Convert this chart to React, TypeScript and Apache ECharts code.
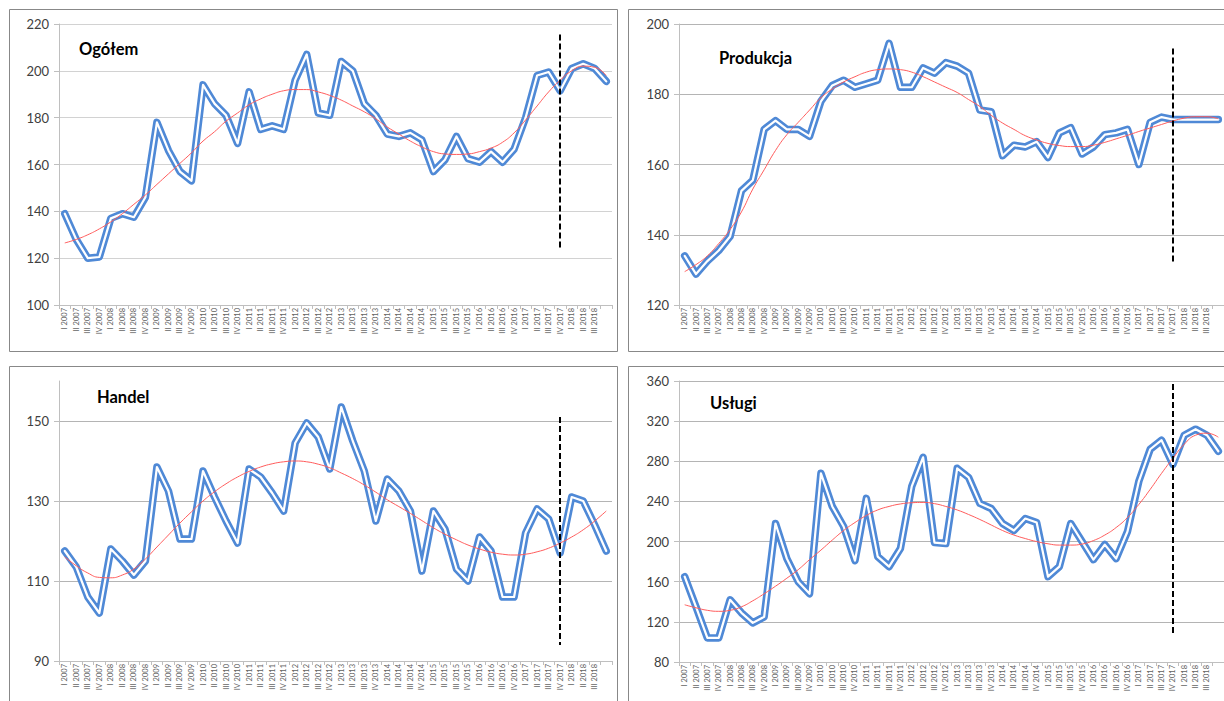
import React, { useEffect, useRef } from 'react';
import * as echarts from 'echarts';

const quarters = [
  'I 2007', 'II 2007', 'III 2007', 'IV 2007',
  'I 2008', 'II 2008', 'III 2008', 'IV 2008',
  'I 2009', 'II 2009', 'III 2009', 'IV 2009',
  'I 2010', 'II 2010', 'III 2010', 'IV 2010',
  'I 2011', 'II 2011', 'III 2011', 'IV 2011',
  'I 2012', 'II 2012', 'III 2012', 'IV 2012',
  'I 2013', 'II 2013', 'III 2013', 'IV 2013',
  'I 2014', 'II 2014', 'III 2014', 'IV 2014',
  'I 2015', 'II 2015', 'III 2015', 'IV 2015',
  'I 2016', 'II 2016', 'III 2016', 'IV 2016',
  'I 2017', 'II 2017', 'III 2017', 'IV 2017',
  'I 2018', 'II 2018', 'III 2018', '',
];

const ogolem = [139, 128, 120, 120.5, 137, 139, 137.5, 146, 178, 166, 157, 153, 194, 186, 181, 169, 191, 175, 176.5, 175, 196, 207, 182, 181, 204, 200, 186, 181, 173, 172, 173.5, 170.5, 157, 162, 172, 162.5, 161, 165.5, 161, 166.5, 180, 198, 199.5, 191.5, 201, 203, 201, 195.5];
const ogolemTrend = [126.5, 128, 130, 132.5, 135.5, 139, 143, 147, 151.5, 156, 160.5, 165, 170, 174, 178.5, 182, 185.5, 188, 190, 191.5, 192, 192, 191, 189.5, 187.5, 185, 182.5, 179.5, 176, 173, 170, 167.5, 165.5, 164.5, 164.3, 164.5, 165.5, 167, 169.5, 173.5, 179, 185, 191, 196, 200, 202, 201.5, 198];

const produkcja = [134, 128.8, 132.5, 135.5, 139.5, 152.5, 155.5, 170, 172.5, 170, 170, 168, 178, 182.5, 184, 182, 183, 184, 194.5, 182, 182, 187.5, 186, 189, 188, 186, 175.5, 175, 162.5, 165.5, 165, 166.5, 162, 169, 170.5, 163, 165, 168.5, 169, 170, 160, 172, 173.5, 172.8, 172.8, 172.8, 172.8, 172.8];
const produkcjaTrend = [129.5, 131.5, 134, 137.5, 141.5, 146.5, 153, 158.5, 164, 168.5, 172, 175.5, 179, 181.5, 183.5, 185, 186.3, 187, 187.2, 187, 186.3, 185, 183.5, 182, 180.5, 178.5, 176.5, 174, 171.8, 170, 168.2, 167, 166, 165.4, 165.1, 165.1, 165.5, 166.3, 167.3, 168.3, 169.4, 170.4, 171.4, 172.4, 173.2, 173.6, 173.6, 173];

const handel = [117.5, 113.5, 106, 102, 118, 115, 111.5, 115, 138.5, 132.5, 120.5, 120.5, 137.5, 131, 125, 119.5, 138, 136, 132, 127.5, 144.5, 149.5, 146, 138, 153.5, 145, 137.5, 125, 135.5, 132.5, 127.5, 112.5, 127.5, 123, 113, 110, 121, 117.5, 106, 106, 122, 128, 125.5, 117, 131, 130, 124, 117.5];
const handelTrend = [116, 113.8, 112, 110.9, 110.8, 111.5, 113, 115.5, 118.5, 121.5, 124.5, 127.3, 130, 132.3, 134.3, 136, 137.4, 138.5, 139.3, 139.8, 140, 139.8, 139.2, 138.3, 137, 135.6, 134, 132.2, 130.3, 128.6, 126.9, 125.1, 123.3, 121.7, 120.3, 119, 118, 117.2, 116.7, 116.5, 116.7, 117.3, 118.2, 119.5, 121, 122.8, 125, 127.5];

const uslugi = [165, 135, 104, 104, 142, 129, 119, 125, 218, 183, 160, 148, 268, 235, 215, 181, 243, 185, 175, 193, 255, 284, 199, 198, 273, 264, 238, 233, 218, 211, 223, 219, 165, 175, 218, 200, 182, 197, 183, 210, 260, 292, 301, 277, 306, 312, 306, 290];
const uslugiTrend = [137, 134, 131.5, 130.5, 131.5, 135, 141, 148, 155.5, 163.5, 172, 182, 191.5, 201.5, 211, 219, 226, 231.5, 235, 237.5, 238.7, 239, 237.8, 235, 231.5, 227, 222, 216.5, 211, 206.5, 203, 200, 197.8, 196.5, 196.5, 197.5, 201, 206.5, 214, 224, 237, 252, 268, 283, 297, 306, 308, 304];

const titles = ['Ogółem', 'Produkcja', 'Handel', 'Usługi'];
const yTicksOgolem = [100, 120, 140, 160, 180, 200, 220];
const yTicksProdukcja = [120, 140, 160, 180, 200];
const yTicksHandel = [90, 110, 130, 150];
const yTicksUslugi = [80, 120, 160, 200, 240, 280, 320, 360];
const markerQuarter = 'IV 2017';

const FONT = 'Lato, "Open Sans", "DejaVu Sans", sans-serif';
const BLUE = '#4f89d6';
const RED = '#ff5c5c';

const panels = [
  { title: titles[0], values: ogolem, trend: ogolemTrend, min: 100, max: 220, ticks: yTicksOgolem, dash: [215.5, 124], left: 59, top: 24, height: 281, grid: '#d2d2d2', box: [9.5, 9.5, 608, 342], tx: 79, ty: 49 },
  { title: titles[1], values: produkcja, trend: produkcjaTrend, min: 120, max: 200, ticks: yTicksProdukcja, dash: [193, 132.4], left: 679, top: 24, height: 281, grid: '#b4b4b4', box: [628.5, 9.5, 700, 342], tx: 719, ty: 58 },
  { title: titles[2], values: handel, trend: handelTrend, min: 90, max: 160, ticks: yTicksHandel, dash: [151, 94], left: 59, top: 381, height: 280, grid: '#b4b4b4', box: [9.5, 366.5, 608, 400], tx: 97, ty: 397 },
  { title: titles[3], values: uslugi, trend: uslugiTrend, min: 80, max: 360, ticks: yTicksUslugi, dash: [357, 107], left: 679, top: 381, height: 281, grid: '#b4b4b4', box: [628.5, 366.5, 700, 400], tx: 710, ty: 403 },
];

export default function App() {
  const ref = useRef<HTMLDivElement>(null);
  useEffect(() => {
    if (!ref.current) return;
    const chart = echarts.init(ref.current, undefined, { renderer: 'svg' });
    const grids: any[] = [];
    const xAxes: any[] = [];
    const yAxes: any[] = [];
    const series: any[] = [];
    const graphic: any[] = [];
    panels.forEach((p, i) => {
      grids.push({ left: p.left, top: p.top, width: 553, height: p.height, containLabel: false });
      xAxes.push({
        type: 'category', gridIndex: i, data: quarters, boundaryGap: true,
        axisLine: { show: true, lineStyle: { color: '#bfbfbf', width: 1 } },
        axisTick: { show: true, interval: 0, length: 4, lineStyle: { color: '#bfbfbf' } },
        axisLabel: { interval: 0, rotate: 90, fontSize: 7.5, color: '#606060', margin: 3, fontFamily: FONT },
        splitLine: { show: false },
      });
      yAxes.push({
        type: 'value', gridIndex: i, min: p.min, max: p.max,
        axisLine: { show: true, lineStyle: { color: '#bfbfbf', width: 1 } },
        axisTick: { show: true, length: 5, lineStyle: { color: '#bfbfbf' }, customValues: p.ticks },
        axisLabel: { fontSize: 13, color: '#404040', margin: 10, fontFamily: FONT, customValues: p.ticks },
        splitLine: { show: true, lineStyle: { color: p.grid, width: 1 } },
      });
      series.push({
        type: 'line', xAxisIndex: i, yAxisIndex: i, data: p.values, symbol: 'none', z: 2,
        lineStyle: { width: 7.5, color: BLUE, join: 'round', cap: 'round' },
        emphasis: { disabled: true }, silent: true,
        markLine: {
          symbol: 'none', silent: true, label: { show: false }, z: 10,
          lineStyle: { color: '#000', type: [6, 3], width: 2 },
          data: [[{ coord: [markerQuarter, p.dash[0]] }, { coord: [markerQuarter, p.dash[1]] }]],
        },
      });
      series.push({
        type: 'line', xAxisIndex: i, yAxisIndex: i, data: p.values, symbol: 'none', z: 3,
        lineStyle: { width: 2.2, color: '#ffffff', join: 'round', cap: 'round' },
        emphasis: { disabled: true }, silent: true,
      });
      series.push({
        type: 'line', xAxisIndex: i, yAxisIndex: i, data: p.trend, symbol: 'none', smooth: true, z: 4,
        lineStyle: { width: 1, color: RED },
        emphasis: { disabled: true }, silent: true,
      });
      graphic.push({
        type: 'rect', shape: { x: p.box[0], y: p.box[1], width: p.box[2], height: p.box[3] },
        style: { fill: 'none', stroke: '#888888', lineWidth: 1 }, z: 0, silent: true,
      });
      graphic.push({
        type: 'text', x: p.tx, y: p.ty, z: 20,
        style: { text: p.title, font: `bold 16.5px ${FONT}`, fill: '#000', verticalAlign: 'middle' },
      });
    });
    chart.setOption({
      animation: false,
      backgroundColor: '#ffffff',
      grid: grids,
      xAxis: xAxes,
      yAxis: yAxes,
      series,
      graphic,
    });
    return () => chart.dispose();
  }, []);
  return <div ref={ref} style={{ position: 'absolute', left: 0, top: 0, width: 1224, height: 701 }} />;
}
